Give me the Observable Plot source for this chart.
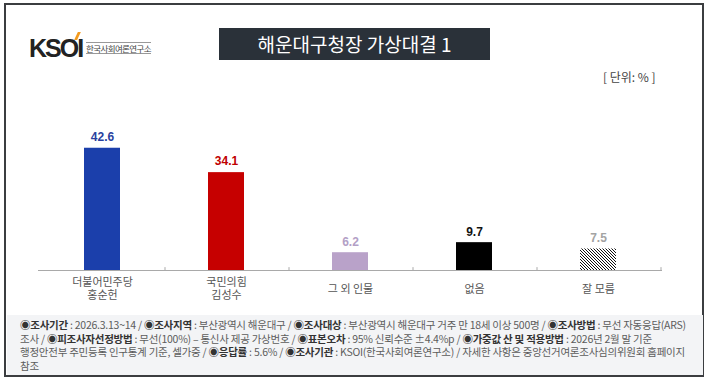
<!DOCTYPE html>
<html><head><meta charset="utf-8">
<script src="https://cdn.jsdelivr.net/npm/d3@7"></script>
<script src="https://cdn.jsdelivr.net/npm/@observablehq/plot@0.6"></script>
<style>
html,body{margin:0;padding:0;background:#fff;}
#page{position:relative;width:710px;height:380px;overflow:hidden;font-family:"Noto Sans CJK KR","Noto Sans",sans-serif;}
#frame{position:absolute;left:4px;top:3px;width:696px;height:370px;border:2.5px solid #3b3d40;background:#fff;}
#footer{position:absolute;left:6.5px;top:315px;width:696px;height:60px;background:#f3f4f6;}
#foottext{position:absolute;left:20px;top:318px;font-size:10.5px;line-height:13.5px;color:#5c5c5c;white-space:nowrap;letter-spacing:-0.25px;}
#foottext b{color:#333;font-weight:700;}
#title{position:absolute;left:219px;top:28px;width:271px;height:32px;background:#2a3139;color:#fff;font-size:19px;line-height:32px;text-align:center;}
#unit{position:absolute;left:603px;top:68px;font-size:12px;color:#444;}
#logo{position:absolute;left:29px;top:34px;font-family:"Liberation Sans",Arial,sans-serif;font-weight:700;font-size:25px;color:#222;letter-spacing:-2px;}
#accent{position:absolute;left:76px;top:32px;width:3px;height:8px;background:#f39a1e;transform:skewX(-25deg);}
#logosub{position:absolute;left:86px;top:42px;font-size:8.5px;color:#444;border-top:1px solid #999;border-bottom:1px solid #999;line-height:10px;letter-spacing:-0.6px;}
#chart{position:absolute;left:0;top:90px;}
</style></head>
<body><div id="page">
<div id="frame"></div>
<div id="footer"></div>
<div id="logo">KSOI</div><div id="accent"></div>
<div id="logosub">한국사회여론연구소</div>
<div id="title">해운대구청장 가상대결 1</div>
<div id="unit">[ 단위: % ]</div>
<div id="chart"></div>
<div id="foottext">
<b>◉조사기간</b> : 2026.3.13~14 / <b>◉조사지역</b> : 부산광역시 해운대구 / <b>◉조사대상</b> : 부산광역시 해운대구 거주 만 18세 이상 500명 / <b>◉조사방법</b> : 무선 자동응답(ARS)<br>
조사 / <b>◉피조사자선정방법</b> : 무선(100%) – 통신사 제공 가상번호 / <b>◉표본오차</b> : 95% 신뢰수준 ±4.4%p / <b>◉가중값 산 및 적용방법</b> : 2026년 2월 말 기준<br>
행정안전부 주민등록 인구통계 기준, 셀가중 / <b>◉응답률</b> : 5.6% / <b>◉조사기관</b> : KSOI(한국사회여론연구소) / 자세한 사항은 중앙선거여론조사심의위원회 홈페이지<br>
참조
</div>
</div>
<script>
const categories = ["더불어민주당\n홍순헌", "국민의힘\n김성수", "그 외 인물", "없음", "잘 모름"];
const values = [42.6, 34.1, 6.2, 9.7, 7.5];
const barColors = ["#1b3fab", "#c60000", "#b9a2c9", "#000000", "url(#hatch)"];
const labelColors = ["#2a3f9e", "#c00000", "#b3a0c6", "#111111", "#a3a3a3"];

const data = categories.map((c, i) => ({cat: c, value: values[i], fill: barColors[i], lc: labelColors[i]}));

const chart = Plot.plot({
  width: 710,
  height: 220,
  marginLeft: 38,
  marginRight: 48,
  marginTop: 36.5,
  marginBottom: 40,
  style: {fontFamily: "'Noto Sans CJK KR', sans-serif", background: "transparent"},
  x: {domain: categories, paddingInner: 0.712, paddingOuter: 0.356, axis: null},
  y: {domain: [0, 50], axis: null},
  marks: [
    Plot.barY(data, {x: "cat", y: "value", fill: d => d.fill}),
    Plot.ruleY([0], {stroke: "#a9a9a9", strokeWidth: 1.2}),
    Plot.ruleX(data, {x: "cat", y1: 0, y2: 1, dx: 62.5, stroke: "#a9a9a9"}),
    Plot.text(data, {x: "cat", y: "value", text: d => d.value.toFixed(1), fill: d => d.lc, dy: -11, lineAnchor: "middle", fontSize: 12, fontWeight: "bold", fontFamily: "'Liberation Sans', Arial, sans-serif"}),
    Plot.text(data, {x: "cat", y: 0, text: "cat", dy: 18, lineAnchor: "middle", lineHeight: 1.16, fontSize: 11, fill: "#555"})
  ]
});
// hatch pattern definition
const svgns = "http://www.w3.org/2000/svg";
const defs = document.createElementNS(svgns, "defs");
defs.innerHTML = '<pattern id="hatch" patternUnits="userSpaceOnUse" width="3" height="3"><rect width="3" height="3" fill="#fff"/><path d="M-1,-1 L4,4 M-1,2 L1,4 M2,-1 L4,1" stroke="#111" stroke-width="1"/></pattern>';
chart.insertBefore(defs, chart.firstChild);
document.getElementById("chart").appendChild(chart);
</script>
</body></html>
